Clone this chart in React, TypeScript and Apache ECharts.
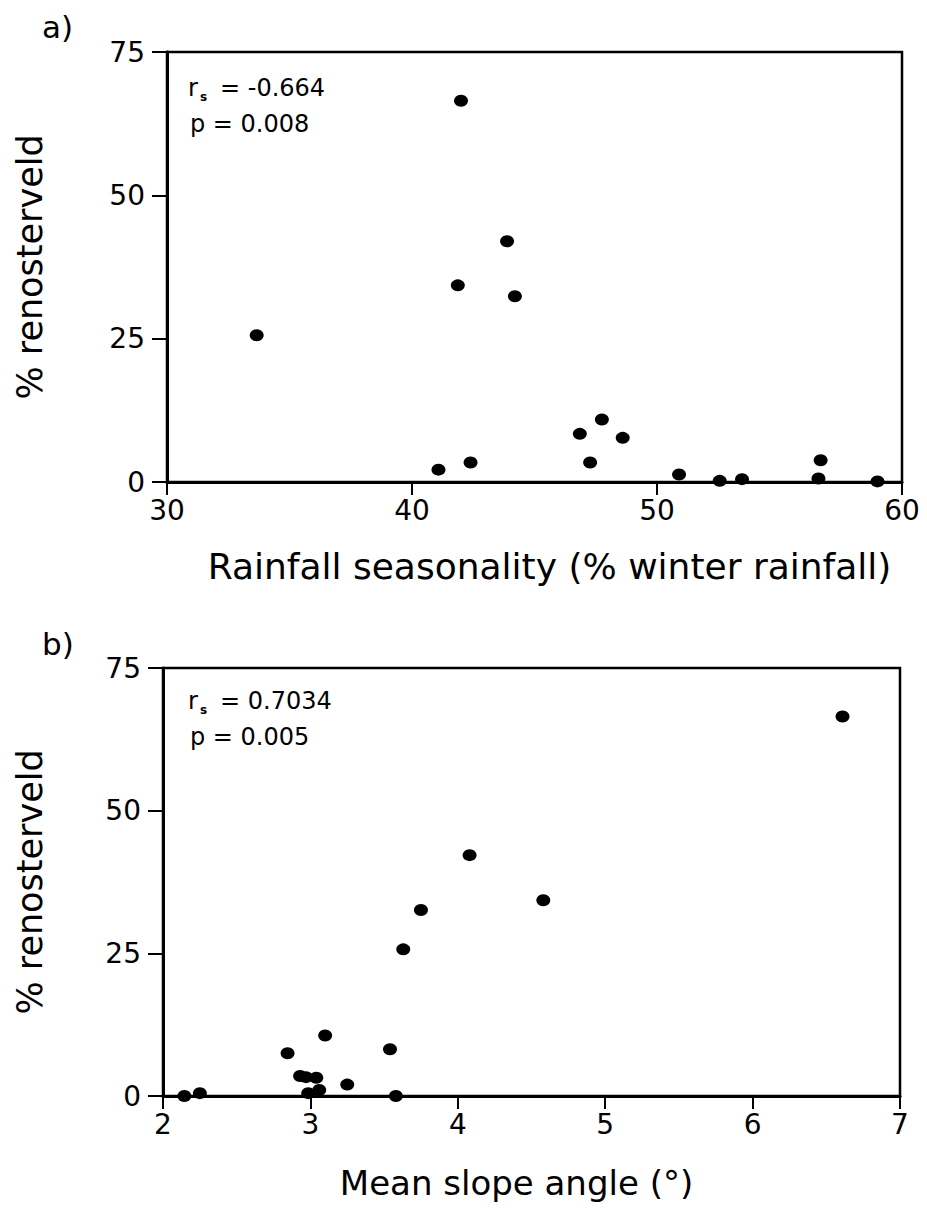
import React, { useEffect, useRef } from "react";
import * as echarts from "echarts";

// Panel a: rainfall seasonality (% winter rainfall) vs % renosterveld
const rainfallA: number[] = [33.66, 41.08, 41.87, 42.0, 42.39, 43.88, 44.2, 46.85, 47.27, 47.75, 48.6, 50.9, 52.56, 53.47, 56.59, 56.68, 59.0];
const renostA: number[] = [25.6, 2.15, 34.3, 66.5, 3.4, 42.0, 32.4, 8.4, 3.4, 10.9, 7.7, 1.3, 0.2, 0.5, 0.6, 3.8, 0.1];

// Panel b: mean slope angle vs % renosterveld
const slopeB: number[] = [2.145, 2.25, 2.845, 2.93, 2.97, 2.985, 3.04, 3.06, 3.1, 3.25, 3.54, 3.58, 3.63, 3.75, 4.08, 4.58, 6.61];
const renostB: number[] = [0, 0.5, 7.5, 3.5, 3.3, 0.5, 3.2, 1.05, 10.6, 2.0, 8.2, 0, 25.7, 32.6, 42.2, 34.3, 66.5];

const xTitleA = "Rainfall seasonality (% winter rainfall)";
const xTitleB = "Mean slope angle (°)";
const yTitle = "% renosterveld";
const statsA = { r: "= -0.664", p: "p = 0.008" };
const statsB = { r: "= 0.7034", p: "p = 0.005" };

const FONT = "DejaVu Sans";

export default function App() {
  const ref = useRef<HTMLDivElement>(null);
  useEffect(() => {
    if (!ref.current) return;
    const chart = echarts.init(ref.current, null, { renderer: "svg" });
    const axisLine = { show: true, onZero: false, lineStyle: { color: "#000", width: 3 } };
    const axisTick = { show: true, length: 13, lineStyle: { color: "#000", width: 2 } };
    const tickLabel = { color: "#000", fontFamily: FONT, fontSize: 28 };
    const nameStyle = { color: "#000", fontFamily: FONT, fontSize: 35 };
    const dataA = rainfallA.map((x, i) => [x, renostA[i]]);
    const dataB = slopeB.map((x, i) => [x, renostB[i]]);
    const stat = (x: number, y: number, s: { r: string; p: string }) => [
      { type: "text", left: x, top: y - 14, style: { text: "r", fontFamily: FONT, fontSize: 24, fill: "#000" } },
      { type: "text", left: x + 12, top: y + 1, style: { text: "s", fontFamily: FONT, fontSize: 12, fontWeight: "bold", fill: "#000" } },
      { type: "text", left: x + 32, top: y - 14, style: { text: s.r, fontFamily: FONT, fontSize: 24, fill: "#000" } },
      { type: "text", left: x + 2, top: y + 22, style: { text: s.p, fontFamily: FONT, fontSize: 24, fill: "#000" } },
    ];
    chart.setOption({
      animation: false,
      backgroundColor: "#fff",
      grid: [
        { left: 167, top: 52, width: 735, height: 430, show: true, borderColor: "#000", borderWidth: 2.5, containLabel: false },
        { left: 163, top: 668, width: 737, height: 428, show: true, borderColor: "#000", borderWidth: 2.5, containLabel: false },
      ],
      xAxis: [
        {
          gridIndex: 0, type: "value", min: 30, max: 60, interval: 10,
          axisLine, axisTick, splitLine: { show: false },
          axisLabel: { ...tickLabel, margin: 14 },
          name: xTitleA, nameLocation: "middle", nameGap: 66,
          nameTextStyle: { ...nameStyle, fontSize: 36, padding: [0, 0, 0, 30] },
        },
        {
          gridIndex: 1, type: "value", min: 2, max: 7, interval: 1,
          axisLine, axisTick, splitLine: { show: false },
          axisLabel: { ...tickLabel, margin: 14 },
          name: xTitleB, nameLocation: "middle", nameGap: 70,
          nameTextStyle: { ...nameStyle, fontSize: 34, padding: [0, 30, 0, 0] },
        },
      ],
      yAxis: [
        {
          gridIndex: 0, type: "value", min: 0, max: 75, interval: 25,
          axisLine, axisTick: { ...axisTick, length: 15 }, splitLine: { show: false },
          axisLabel: { ...tickLabel, margin: 22 },
          name: yTitle, nameLocation: "middle", nameRotate: 90, nameGap: 120,
          nameTextStyle: nameStyle,
        },
        {
          gridIndex: 1, type: "value", min: 0, max: 75, interval: 25,
          axisLine, axisTick: { ...axisTick, length: 15 }, splitLine: { show: false },
          axisLabel: { ...tickLabel, margin: 22 },
          name: yTitle, nameLocation: "middle", nameRotate: 90, nameGap: 116,
          nameTextStyle: nameStyle,
        },
      ],
      series: [
        {
          type: "scatter", xAxisIndex: 0, yAxisIndex: 0, data: dataA,
          symbol: "circle", symbolSize: [14, 12], itemStyle: { color: "#000", opacity: 1 }, clip: false,
        },
        {
          type: "scatter", xAxisIndex: 1, yAxisIndex: 1, data: dataB,
          symbol: "circle", symbolSize: [14, 12], itemStyle: { color: "#000", opacity: 1 }, clip: false,
        },
      ],
      graphic: [
        { type: "text", left: 42, top: 11, style: { text: "a)", fontFamily: FONT, fontSize: 31, fill: "#000" } },
        { type: "text", left: 42, top: 628, style: { text: "b)", fontFamily: FONT, fontSize: 31, fill: "#000" } },
        ...stat(188, 90, statsA),
        ...stat(188, 703, statsB),
      ],
    });
    return () => chart.dispose();
  }, []);
  return (
    <div
      ref={ref}
      style={{ position: "absolute", left: 0, top: 0, width: 927, height: 1208, background: "#fff" }}
    />
  );
}
